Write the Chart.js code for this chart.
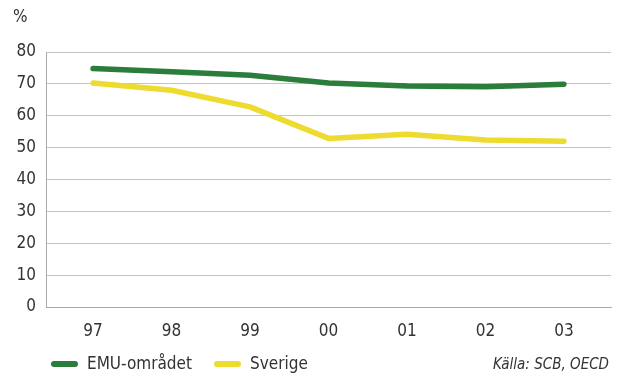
<!DOCTYPE html>
<html>
<head>
<meta charset="utf-8">
<script src="https://cdn.jsdelivr.net/npm/chart.js@4/dist/chart.umd.min.js"></script>
<style>
  html, body { margin: 0; padding: 0; background: #fff; }
  #wrap { position: relative; width: 617px; height: 374px; font-family: "Liberation Sans Narrow", "DejaVu Sans Condensed", sans-serif; color: #333; }
  #chart { position: absolute; left: 0; top: 0; }
  .lbl { position: absolute; font-size: 17px; white-space: nowrap; }
  .key { position: absolute; height: 6px; border-radius: 3px; width: 27px; }
</style>
</head>
<body>
<div id="wrap">
  <canvas id="chart" width="617" height="374"></canvas>
  <div class="lbl" style="left:13px; top:6px;">%</div>
  <div class="key" style="left:51px; top:361px; background:#2a7d3a;"></div>
  <div class="lbl" style="left:87px; top:353px;">EMU-området</div>
  <div class="key" style="left:214px; top:361px; background:#eedb30;"></div>
  <div class="lbl" style="left:250px; top:353px;">Sverige</div>
  <div class="lbl" style="right:8px; top:355px; font-size:15px; font-style:italic;">Källa: SCB, OECD</div>
</div>
<script>
const years = ['97', '98', '99', '00', '01', '02', '03'];
const emu = [74.8, 73.8, 72.7, 70.3, 69.3, 69.1, 69.9];
const sverige = [70.3, 68.0, 62.8, 52.9, 54.2, 52.4, 52.0];
const yTicks = [0, 10, 20, 30, 40, 50, 60, 70, 80];

const font = { family: '"Liberation Sans Narrow", "DejaVu Sans Condensed", sans-serif', size: 17 };

function toPoints(values) {
    return values.map((v, i) => ({ x: i, y: v }));
}

new Chart(document.getElementById('chart'), {
    type: 'line',
    data: {
        datasets: [
            { label: 'Sverige', data: toPoints(sverige), borderColor: '#eedb30', borderWidth: 5.5, pointRadius: 0, borderCapStyle: 'round', borderJoinStyle: 'round', tension: 0 },
            { label: 'EMU-området', data: toPoints(emu), borderColor: '#2a7d3a', borderWidth: 5.5, pointRadius: 0, borderCapStyle: 'round', borderJoinStyle: 'round', tension: 0 }
        ]
    },
    options: {
        responsive: false,
        animation: false,
        layout: { padding: { top: 52, right: 6, bottom: 27, left: 0 } },
        plugins: { legend: { display: false }, tooltip: { enabled: false } },
        scales: {
            x: {
                type: 'linear',
                min: -0.6,
                max: 6.6,
                afterBuildTicks: scale => { scale.ticks = years.map((y, i) => ({ value: i })); },
                afterFit: scale => { scale.height = 40; },
                ticks: { font: font, color: '#333', padding: 14, callback: v => years[v] },
                grid: { display: false, drawTicks: false },
                border: { color: '#aaa', width: 1 }
            },
            y: {
                min: 0,
                max: 80,
                afterBuildTicks: scale => { scale.ticks = yTicks.map(v => ({ value: v })); },
                afterFit: scale => { scale.width = 46; },
                ticks: { font: font, color: '#333', padding: 10 },
                grid: { color: '#c4c4c4', lineWidth: 1, drawTicks: false },
                border: { color: '#aaa', width: 1 }
            }
        }
    }
});
</script>
</body>
</html>
